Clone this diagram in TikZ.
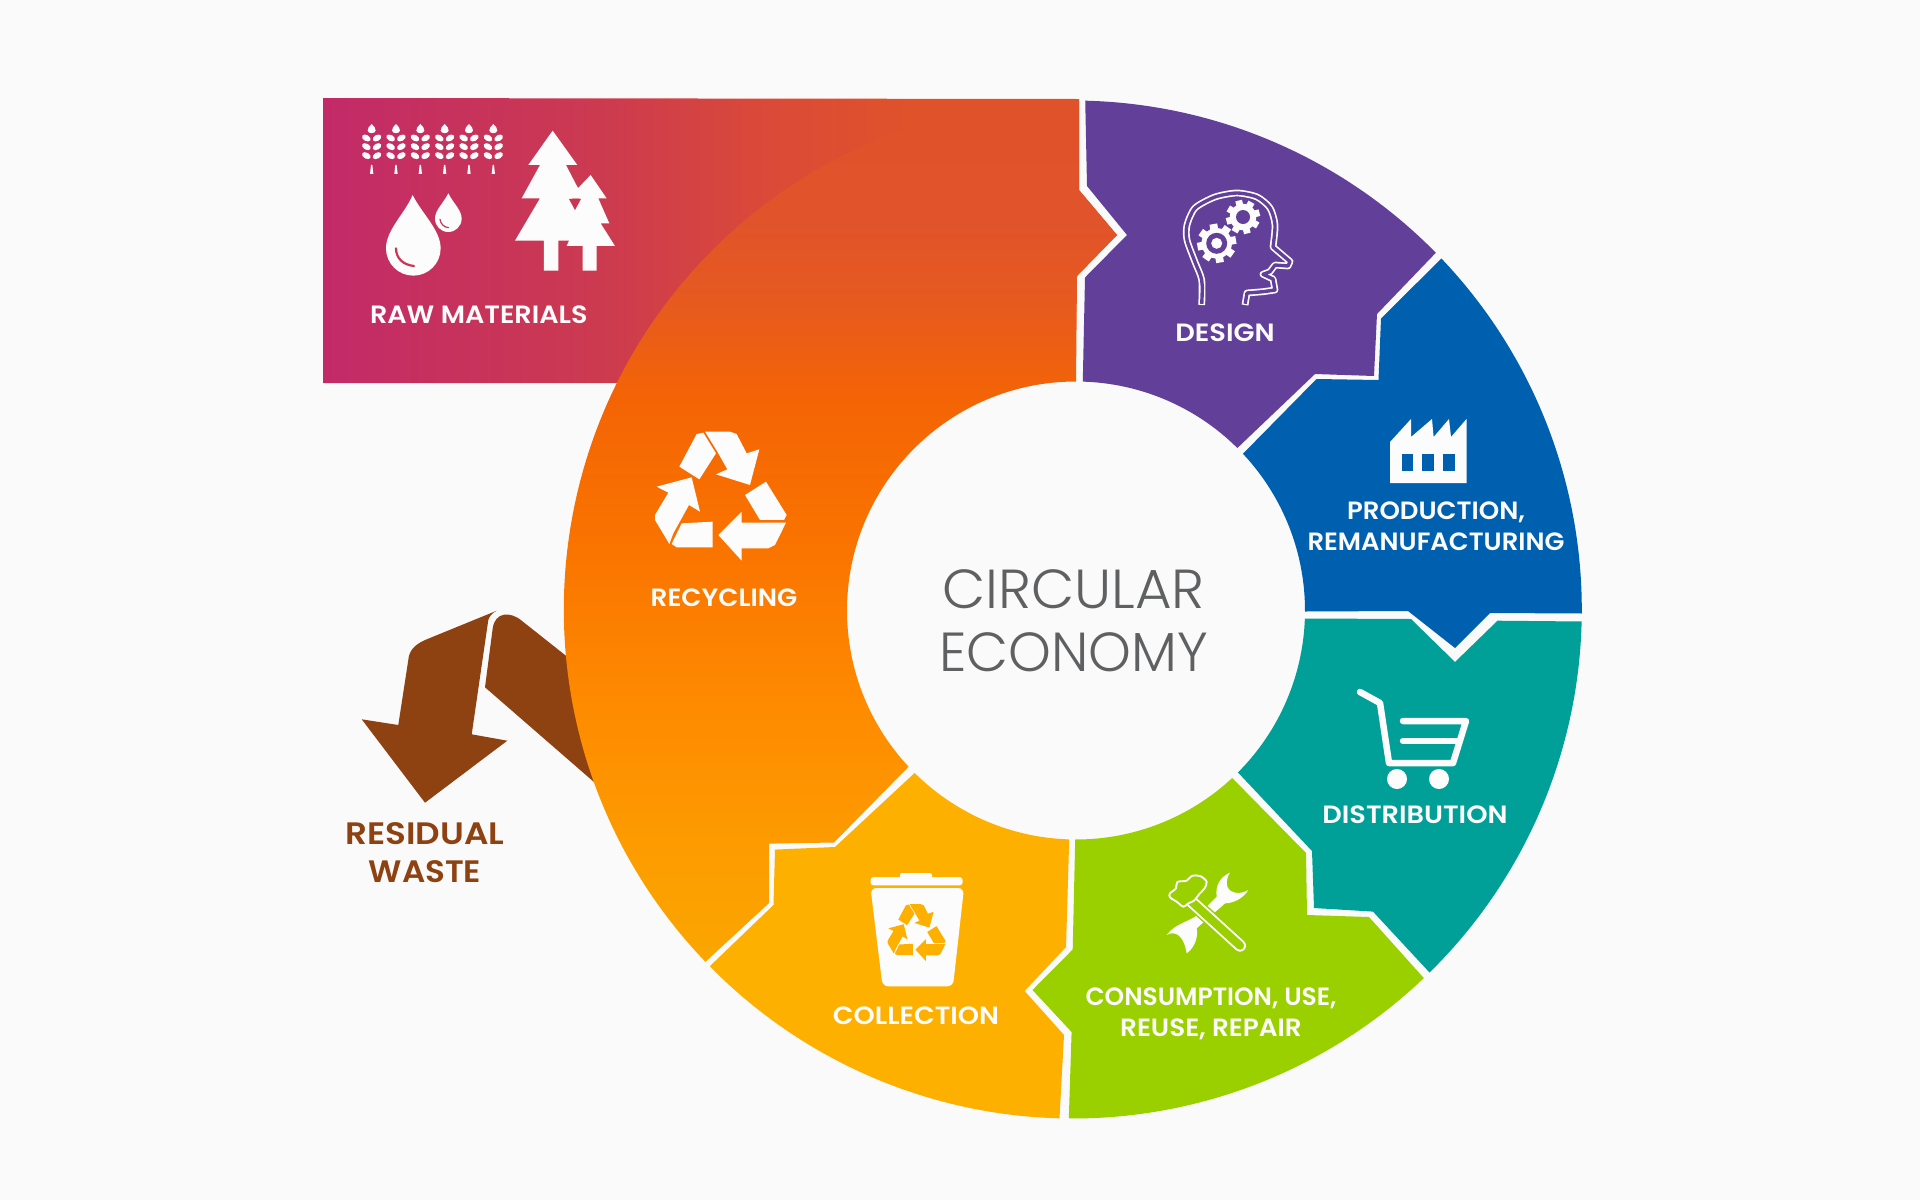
\documentclass[tikz,border=0pt]{standalone}
\usepackage{graphicx}
\usepackage{fontspec}
\usetikzlibrary{calc}
\newfontfamily\lblfont[FakeStretch=1.05]{Poppins SemiBold}
\newfontfamily\lightfont[FakeStretch=1.02]{Poppins Light}
\definecolor{bgc}{HTML}{FAFAFA}
\definecolor{cDesign}{HTML}{62409A}
\definecolor{cProd}{HTML}{0060B0}
\definecolor{cTeal}{HTML}{00A099}
\definecolor{cGreen}{HTML}{9ACF00}
\definecolor{cColl}{HTML}{FDB000}
\definecolor{cBrown}{HTML}{8E4211}
\definecolor{cGrey}{HTML}{5F6062}
\definecolor{cIcon}{HTML}{FCFCFC}
\definecolor{cCrim}{HTML}{CC3552}
\definecolor{cMag}{HTML}{C22A68}
\definecolor{wa}{HTML}{CC3A50}
\definecolor{wb}{HTML}{DA4A38}
\definecolor{ra}{HTML}{E0522A}
\definecolor{raa}{HTML}{E1532A}
\definecolor{rb}{HTML}{E65A20}
\definecolor{rc}{HTML}{F46405}
\definecolor{rd}{HTML}{FA7400}
\definecolor{re}{HTML}{FE8A00}
\definecolor{rf}{HTML}{FD9C00}
\definecolor{rg}{HTML}{FBA600}
\pgfdeclareverticalshading{recyshade}{100bp}{color(0bp)=(rg); color(25bp)=(rg); color(31.5bp)=(rf); color(40.2bp)=(re); color(49bp)=(rd); color(57.6bp)=(rc); color(63.4bp)=(rb); color(68bp)=(raa); color(75bp)=(ra); color(100bp)=(ra)}
\pgfdeclarehorizontalshading{rawshade}{100bp}{color(0bp)=(cMag); color(25bp)=(cMag); color(42.4bp)=(wa); color(53bp)=(wb); color(62bp)=(ra); color(100bp)=(ra)}
\newcommand\sx[2]{\scalebox{#1}[1]{#2}}
\tikzset{
  lbl/.style={text=cIcon,align=center,inner sep=0pt,font=\lblfont\fontsize{25}{31.5}\selectfont},
  lblbrown/.style={text=cBrown,align=center,inner sep=0pt,font=\lblfont\fontsize{31}{38}\selectfont},
  centertext/.style={text=cGrey,align=center,inner sep=0pt,font=\lightfont\fontsize{55}{62.6}\selectfont},
}
% recycle symbol drawn in a 480x450 box
\newcommand\recycleicon[1]{%
  \fill[#1] (118,140) -- (170,42) -- (190,38) -- (228,100) -- (178,178) -- cycle;
  \fill[#1] (195,35) -- (270,35) -- (290,42) -- (320,100) -- (358,88) -- (330,195) -- (228,163) -- (262,148) -- (232,95) -- cycle;
  \fill[#1] (378,185) -- (440,285) -- (432,300) -- (360,300) -- (315,225) -- cycle;
  \fill[#1] (438,308) -- (405,375) -- (385,385) -- (305,385) -- (305,422) -- (235,345) -- (305,275) -- (305,308) -- cycle;
  \fill[#1] (218,305) -- (218,382) -- (110,382) -- (95,372) -- (125,310) -- cycle;
  \fill[#1] (88,372) -- (45,300) -- (45,285) -- (85,218) -- (50,200) -- (155,172) -- (180,275) -- (147,255) -- (100,340) -- cycle;
}
\newcommand\gearicon[3]{% centre, radius, angle
  \begin{scope}[shift={#1},rotate=#3]
    \foreach \a in {0,45,...,315}{
      \fill[cIcon,rotate=\a] (-#2*0.2,0) rectangle (#2*0.2,#2);
    }
    \fill[cIcon] (0,0) circle ({#2*0.78});
  \end{scope}
}
\newcommand\headpath{plot[smooth,tension=0.45] coordinates {(1201.7,305) (1201.7,280) (1195,262) (1187,240) (1187,225) (1195,208) (1215,197) (1237,193) (1257,197) (1270,208) (1275,225) (1273,247)} -- (1290,261.5) -- (1288,266) -- (1275,265) -- (1270,271.7) -- (1263,274.3) -- (1273,279) -- (1275,290) -- (1263,291.7) -- (1247,293) -- (1245,305)}
\begin{document}
\begin{tikzpicture}[x=1pt,y=-1pt]
\useasboundingbox (0,0) rectangle (1920,1200);
\fill[bgc] (0,0) rectangle (1920,1200);
\coordinate (O) at (1072.8,609.5);
\coordinate (I) at (1076,610.5);

% raw materials band
\shade[shading=rawshade] (323,98) -- (1079,99) -- (1079,190) -- (1117,235) -- (1077,276) -- (1075,370) -- (850,383) -- (323,383) -- cycle;

% residual waste arrow
\fill[cBrown] (485,687.3) -- (492.7,628.3) .. controls (495,612) and (510,611) .. (521.7,620.7) -- (565,655) -- (640,714) -- (640,822) -- cycle;
\fill[cBrown] (496.7,610.7) -- (425,640) .. controls (414,645) and (409,651) .. (408.3,660) -- (398.3,725) -- (361.7,719.3) -- (425,802.7) -- (507.3,740.7) -- (471.7,734.3) -- (488.3,620) .. controls (489,617) and (492,613) .. (496.7,610.7) -- cycle;

% recycling
\shade[shading=recyshade] ([shift={(136.2:509)}]O) arc[start angle=136.2,end angle=270,radius=509] -- (1079,100.5) -- (1079,190) -- (1117,235) -- (1077,276) -- ([shift={(270:229)}]I) arc[start angle=270,end angle=137,radius=229] -- (834,842.5) -- (769,843.6) -- (769,903) -- cycle;

% design
\fill[cDesign] ([shift={(-88.6:509)}]O) arc[start angle=-88.6,end angle=-44.5,radius=509] -- (1377,314) -- (1374,376) -- (1315,374) -- ([shift={(-45.2:229)}]I) arc[start angle=-45.2,end angle=-88.3,radius=229] -- (1085,277.5) -- (1127,235) -- (1087,186) -- cycle;
% production
\fill[cProd] ([shift={(-43.6:509)}]O) arc[start angle=-43.6,end angle=0.45,radius=509] -- (1490,613) -- (1455,648) -- (1408,611) -- ([shift={(0.25:229)}]I) arc[start angle=0.25,end angle=-43.2,radius=229] -- (1316.5,379) -- (1378.5,380) -- (1381,318.5) -- cycle;
% distribution
\fill[cTeal] ([shift={(1.35:509)}]O) arc[start angle=1.35,end angle=45.5,radius=509] -- (1373,911.6) -- (1314,908) -- (1312,851) -- ([shift={(45:229)}]I) arc[start angle=45,end angle=2,radius=229] -- (1411,619) -- (1455,662) -- (1497.5,620.7) -- cycle;
% consumption
\fill[cGreen] ([shift={(46.4:509)}]O) arc[start angle=46.4,end angle=90.45,radius=509] -- (1071.6,1032) -- (1032.5,990) -- (1072.7,949.5) -- ([shift={(90.2:229)}]I) arc[start angle=90.2,end angle=47,radius=229] -- (1306,853) -- (1307,915) -- (1369,917) -- cycle;
% collection
\fill[cColl] ([shift={(91.5:509)}]O) arc[start angle=91.5,end angle=135.5,radius=509] -- (773.5,905) -- (775,849.6) -- (835,847) -- ([shift={(134.8:229)}]I) arc[start angle=134.8,end angle=91.7,radius=229] -- (1066,947) -- (1024.6,991) -- (1064,1035) -- cycle;

% wheat, drops, trees
\begin{scope}[shift={(350,110)},scale=0.3333]
  \foreach \wx in {65,138,211,284,357,430}{
    \fill[cIcon] (\wx,42) .. controls (\wx+6,50) and (\wx+14,54) .. (\wx+12,62) .. controls (\wx+10,72) and (\wx-10,72) .. (\wx-12,62) .. controls (\wx-14,54) and (\wx-6,50) .. (\wx,42) -- cycle;
    \foreach \wy in {84,110,137}{
      \fill[cIcon,rotate around={-30:(\wx-16,\wy)}] (\wx-16,\wy) ellipse (14 and 9);
      \fill[cIcon,rotate around={30:(\wx+16,\wy)}] (\wx+16,\wy) ellipse (14 and 9);
    }
    \fill[cIcon] (\wx-2,165) -- (\wx+2,165) -- (\wx+5,192) -- (\wx-5,192) -- cycle;
  }
  % drops
  \fill[cIcon] (188,255) .. controls (215,310) and (272,360) .. (272,415) arc[start angle=0,end angle=180,radius=82] .. controls (108,360) and (165,310) .. (188,255) -- cycle;
  \fill[cIcon] (295,250) .. controls (310,280) and (335,300) .. (335,326) arc[start angle=0,end angle=180,radius=40] .. controls (255,300) and (280,280) .. (295,250) -- cycle;
  \draw[cCrim,line width=2.2pt,line cap=round] (138,415) .. controls (138,445) and (160,465) .. (192,468);
  \draw[cCrim,line width=1.2pt,line cap=round] (270,328) .. controls (272,342) and (282,352) .. (296,353);
  % trees
  \fill[cIcon] (608,62) -- (682,165) -- (648,165) -- (700,265) -- (665,265) -- (722,392) -- (625,392) -- (625,482) -- (582,482) -- (582,392) -- (495,392) -- (570,265) -- (515,265) -- (570,165) -- (535,165) -- cycle;
  \fill[cIcon] (722,195) -- (770,265) -- (745,265) -- (778,340) -- (752,340) -- (795,408) -- (740,408) -- (740,482) -- (698,482) -- (698,408) -- (650,408) -- (680,340) -- (670,300) -- (690,265) -- (655,265) -- cycle;
  \fill[cCrim] (657,267) -- (693,267) -- (675,300) -- cycle;
\end{scope}

% large recycle symbol
\begin{scope}[shift={(640,420)},scale=0.3333]
  \recycleicon{cIcon}
\end{scope}

% bin
\fill[cIcon,rounded corners=3pt] (870.5,877) rectangle (962.6,885.4);
\fill[cIcon,rounded corners=2pt] (900,873) rectangle (932,880);
\fill[cIcon,rounded corners=6pt] (870.5,888) -- (964,888) -- (953,986.4) -- (882.6,986.4) -- cycle;
\begin{scope}[shift={(881,899)},scale=0.1467]
  \recycleicon{cColl}
\end{scope}

% head
\draw[cIcon,line width=6.8pt,line join=round] \headpath;
\draw[cDesign,line width=3.4pt,line join=round,shorten <=1.2pt,shorten >=1.2pt] \headpath;
\gearicon{(1216.7,243.3)}{19.5}{10}
\fill[cDesign] (1216.7,243.3) circle (10.5);
\fill[cIcon] (1216.7,243.3) circle (5.5);
\gearicon{(1243,217)}{17}{15}
\fill[cDesign] (1243,217) circle (7);

% factory
\fill[cIcon] (1390,483) -- (1390,442) -- (1411,419) -- (1411,437) -- (1432,419) -- (1433.6,437) -- (1449,419) -- (1451,437) -- (1466.5,419) -- (1466.5,483) -- cycle;
\fill[cProd] (1401.6,454) rectangle (1413,471.4);
\fill[cProd] (1421.6,454) rectangle (1433.6,471.4);
\fill[cProd] (1443,454) rectangle (1455,471.4);

% cart
\draw[cIcon,line width=6.5pt,line cap=round,line join=round] (1360,692) -- (1380,703) -- (1389,763) -- (1453,763) -- (1466,721) -- (1403,721);
\draw[cIcon,line width=6.5pt,line cap=round] (1403,741) -- (1458,741);
\fill[cIcon] (1397,779) circle (10);
\fill[cIcon] (1439,779) circle (10);

% tools
\begin{scope}[shift={(1150,860)},scale=0.3333]
  \fill[cIcon] (240,38) .. controls (212,50) and (195,75) .. (200,110) -- (150,160) .. controls (120,185) and (75,190) .. (50,225) .. controls (75,212) and (100,222) .. (110,280) .. controls (135,262) and (145,230) .. (140,205) -- (225,130) .. controls (250,130) and (280,115) .. (295,90) .. controls (270,105) and (240,100) .. (232,80) .. controls (228,65) and (232,50) .. (240,38) -- cycle;
  \draw[cGreen,line width=15pt,line cap=round] (125,125) -- (270,257);
  \draw[cIcon,line width=12pt,line cap=round] (125,125) -- (270,257);
  \draw[cGreen,line width=8.2pt,line cap=round] (125,125) -- (270,257);
  \draw[cIcon,fill=cGreen,line width=1.9pt,line join=round] plot[smooth cycle,tension=0.55] coordinates {(60,100) (78,85) (82,66) (110,62) (125,48) (150,48) (170,65) (163,86) (148,102) (132,122) (115,130) (100,140) (80,125) (60,112)};
\end{scope}

% labels
\node[lbl] (rawlabel) at (478.8,314.5) {\sx{1.03}{RAW MATERIALS}};
\node[lbl] (designlabel) at (1225,333) {\sx{1.04}{DESIGN}};
\node[lbl] (prodlabel) at (1436,526) {\sx{0.99}{PRODUCTION,}\\\sx{0.985}{REMANUFACTURING}};
\node[lbl] (distlabel) at (1415,815) {\sx{1.035}{DISTRIBUTION}};
\node[lbl] (consumelabel) at (1211,1014) {\sx{0.95}{CONSUMPTION, USE,}\\REUSE, REPAIR};
\node[lbl] (colllabel) at (916,1016) {\sx{1.03}{COLLECTION}};
\node[lbl] (recylabel) at (724,598) {RECYCLING};
\node[lblbrown] (wastelabel) at (425,853) {\sx{1.05}{RESIDUAL}\\WASTE};
\node[centertext] (centerlabel) at (1073.5,621) {CIRCULAR\\\sx{0.97}{ECONOMY}};
\end{tikzpicture}
\end{document}
